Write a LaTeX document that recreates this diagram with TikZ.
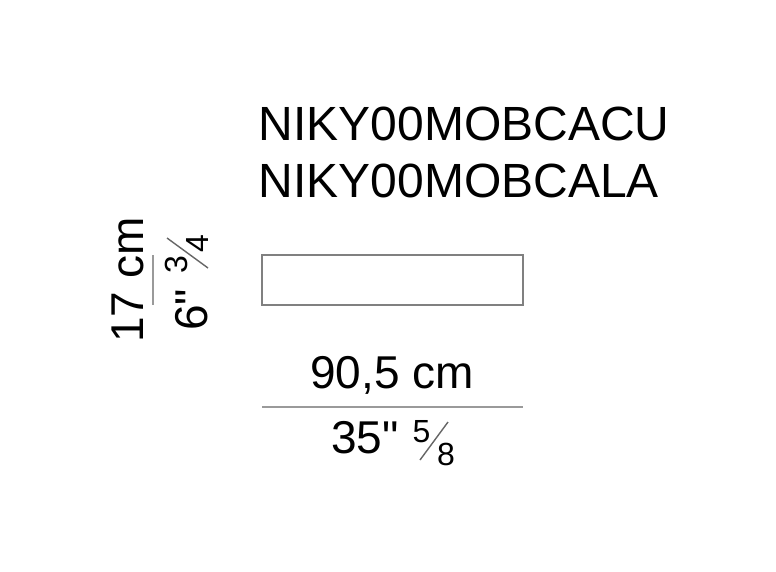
\documentclass[tikz,border=0pt]{standalone}
\usepackage{fontspec}
\newfontfamily\arialf{Liberation Sans}
\definecolor{framegray}{HTML}{808080}
\definecolor{linegray}{HTML}{9A9A9A}
\begin{document}
\begin{tikzpicture}[x=1pt,y=-1pt,
  code/.style={inner sep=0pt,anchor=base west,font=\arialf\fontsize{48}{48}\selectfont},
  dim/.style={inner sep=0pt,font=\arialf\fontsize{46}{46}\selectfont},
  small/.style={inner sep=0pt,anchor=base,font=\arialf\fontsize{32}{32}\selectfont},
  dimline/.style={draw=linegray,line width=2pt},
  slash/.style={draw=black!60,line width=1.4pt}]
\path[use as bounding box] (0,0) rectangle (776,571);
% codes
\node[code] (c1) at (258.5,140) {NIKY00MOBCACU};
\node[code] (c2) at (258.5,197) {NIKY00MOBCALA};
% object
\node[draw=framegray,line width=2pt,minimum width=261pt,minimum height=50pt,inner sep=0pt] (box) at (392.5,280) {};
% horizontal dimension
\coordinate (hl) at (262,407);
\coordinate (hr) at (523,407);
\draw[dimline] (hl) -- (hr);
\node[dim,anchor=base] (w) at (392,388) {90,5 cm};
\node[dim,anchor=base west] (wi) at (331,453) {35"};
\node[small] (wn) at (421.5,442) {5};
\node[small] (wd) at (446,465) {8};
\coordinate (ws1) at (420,460);
\coordinate (ws2) at (448,422);
\draw[slash] (ws1) -- (ws2);
% vertical dimension
\coordinate (vt) at (153,255);
\coordinate (vb) at (153,305);
\draw[dimline] (vt) -- (vb);
\node[dim,anchor=base,rotate=90] (h) at (143,280) {17 cm};
\node[dim,anchor=base west,rotate=90] (hi) at (207,331) {6"};
\node[small,rotate=90] (hn) at (187,265) {3};
\node[small,rotate=90] (hd) at (208,243.5) {4};
\coordinate (hs1) at (208,268);
\coordinate (hs2) at (167,238);
\draw[slash] (hs1) -- (hs2);
\end{tikzpicture}
\end{document}
